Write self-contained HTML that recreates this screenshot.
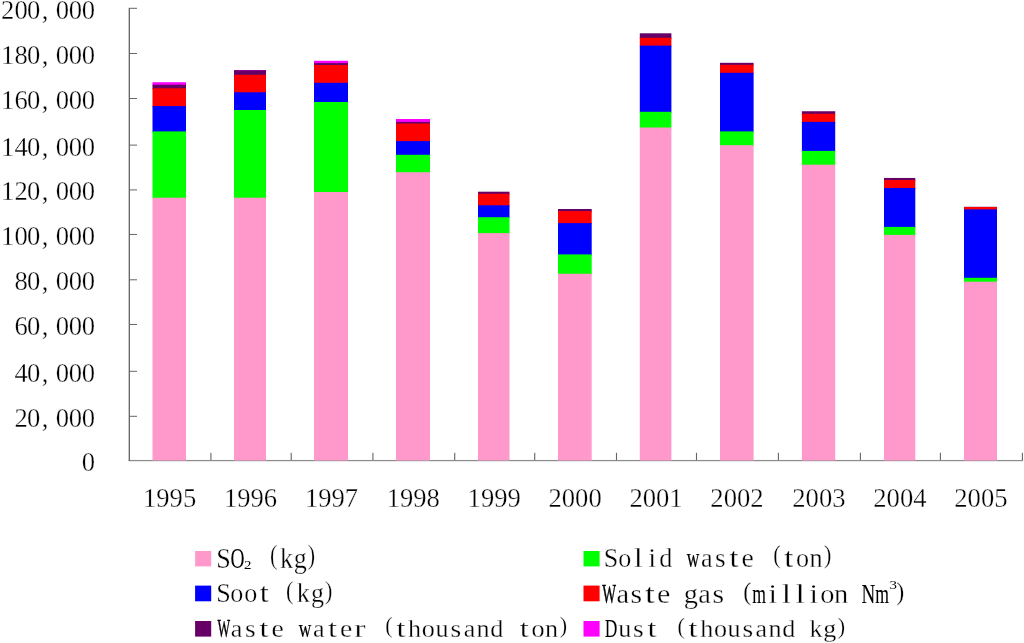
<!DOCTYPE html>
<html><head><meta charset="utf-8"><title>Chart</title>
<style>html,body{margin:0;padding:0;background:#fff;}body{width:1024px;height:643px;overflow:hidden;}svg{display:block;}text{font-family:"Liberation Serif",serif;fill:#000;}</style></head><body>
<svg width="1024" height="643" viewBox="0 0 1024 643" style="will-change:transform">
<rect x="0" y="0" width="1024" height="643" fill="#fff"/>
<g fill="#8c8c8c">
<rect x="128.65" y="459.95" width="894.5" height="1.25"/>
</g>
<g>
<rect x="152.50" y="82.20" width="33.50" height="3.50" fill="#FF00FF"/>
<rect x="152.50" y="84.70" width="33.50" height="4.60" fill="#660066"/>
<rect x="152.50" y="88.30" width="33.50" height="18.80" fill="#FF0000"/>
<rect x="152.50" y="106.10" width="33.50" height="26.30" fill="#0000FF"/>
<rect x="152.50" y="131.40" width="33.50" height="67.30" fill="#00FF00"/>
<rect x="152.50" y="197.70" width="33.50" height="262.80" fill="#FF99CC"/>
<rect x="234.00" y="70.00" width="32.00" height="1.30" fill="#FF00FF"/>
<rect x="234.00" y="70.30" width="32.00" height="5.50" fill="#660066"/>
<rect x="234.00" y="74.80" width="32.00" height="18.50" fill="#FF0000"/>
<rect x="234.00" y="92.30" width="32.00" height="18.70" fill="#0000FF"/>
<rect x="234.00" y="110.00" width="32.00" height="88.70" fill="#00FF00"/>
<rect x="234.00" y="197.70" width="32.00" height="262.80" fill="#FF99CC"/>
<rect x="314.00" y="60.80" width="34.00" height="3.30" fill="#FF00FF"/>
<rect x="314.00" y="63.10" width="34.00" height="2.90" fill="#660066"/>
<rect x="314.00" y="65.00" width="34.00" height="18.80" fill="#FF0000"/>
<rect x="314.00" y="82.80" width="34.00" height="20.20" fill="#0000FF"/>
<rect x="314.00" y="102.00" width="34.00" height="91.00" fill="#00FF00"/>
<rect x="314.00" y="192.00" width="34.00" height="268.50" fill="#FF99CC"/>
<rect x="396.00" y="119.00" width="34.00" height="3.90" fill="#FF00FF"/>
<rect x="396.00" y="121.90" width="34.00" height="2.60" fill="#660066"/>
<rect x="396.00" y="123.50" width="34.00" height="18.60" fill="#FF0000"/>
<rect x="396.00" y="141.10" width="34.00" height="14.70" fill="#0000FF"/>
<rect x="396.00" y="154.80" width="34.00" height="18.40" fill="#00FF00"/>
<rect x="396.00" y="172.20" width="34.00" height="288.30" fill="#FF99CC"/>
<rect x="478.00" y="191.70" width="31.50" height="3.05" fill="#660066"/>
<rect x="478.00" y="193.75" width="31.50" height="12.55" fill="#FF0000"/>
<rect x="478.00" y="205.30" width="31.50" height="12.90" fill="#0000FF"/>
<rect x="478.00" y="217.20" width="31.50" height="16.90" fill="#00FF00"/>
<rect x="478.00" y="233.10" width="31.50" height="227.40" fill="#FF99CC"/>
<rect x="558.00" y="209.00" width="33.70" height="3.10" fill="#660066"/>
<rect x="558.00" y="211.10" width="33.70" height="13.00" fill="#FF0000"/>
<rect x="558.00" y="223.10" width="33.70" height="32.30" fill="#0000FF"/>
<rect x="558.00" y="254.40" width="33.70" height="20.35" fill="#00FF00"/>
<rect x="558.00" y="273.75" width="33.70" height="186.75" fill="#FF99CC"/>
<rect x="639.80" y="33.30" width="31.60" height="5.50" fill="#660066"/>
<rect x="639.80" y="37.80" width="31.60" height="8.80" fill="#FF0000"/>
<rect x="639.80" y="45.60" width="31.60" height="67.20" fill="#0000FF"/>
<rect x="639.80" y="111.80" width="31.60" height="16.70" fill="#00FF00"/>
<rect x="639.80" y="127.50" width="31.60" height="333.00" fill="#FF99CC"/>
<rect x="720.00" y="62.80" width="33.60" height="3.00" fill="#660066"/>
<rect x="720.00" y="64.80" width="33.60" height="9.00" fill="#FF0000"/>
<rect x="720.00" y="72.80" width="33.60" height="59.60" fill="#0000FF"/>
<rect x="720.00" y="131.40" width="33.60" height="14.80" fill="#00FF00"/>
<rect x="720.00" y="145.20" width="33.60" height="315.30" fill="#FF99CC"/>
<rect x="801.90" y="111.25" width="33.30" height="3.50" fill="#660066"/>
<rect x="801.90" y="113.75" width="33.30" height="9.15" fill="#FF0000"/>
<rect x="801.90" y="121.90" width="33.30" height="30.00" fill="#0000FF"/>
<rect x="801.90" y="150.90" width="33.30" height="14.80" fill="#00FF00"/>
<rect x="801.90" y="164.70" width="33.30" height="295.80" fill="#FF99CC"/>
<rect x="884.00" y="177.95" width="31.30" height="3.05" fill="#660066"/>
<rect x="884.00" y="180.00" width="31.30" height="8.95" fill="#FF0000"/>
<rect x="884.00" y="187.95" width="31.30" height="39.95" fill="#0000FF"/>
<rect x="884.00" y="226.90" width="31.30" height="9.00" fill="#00FF00"/>
<rect x="884.00" y="234.90" width="31.30" height="225.60" fill="#FF99CC"/>
<rect x="964.00" y="206.80" width="33.00" height="1.20" fill="#660066"/>
<rect x="964.00" y="207.00" width="33.00" height="3.40" fill="#FF0000"/>
<rect x="964.00" y="209.40" width="33.00" height="69.40" fill="#0000FF"/>
<rect x="964.00" y="277.80" width="33.00" height="4.90" fill="#00FF00"/>
<rect x="964.00" y="281.70" width="33.00" height="178.80" fill="#FF99CC"/>
</g>
<g fill="#686868">
<rect x="128.65" y="7.8" width="1.35" height="453.2"/>
</g>
<g fill="#666666">
<rect x="130" y="415.80" width="7.0" height="1.0"/>
<rect x="130" y="370.80" width="7.0" height="1.0"/>
<rect x="130" y="323.96" width="7.0" height="1.0"/>
<rect x="130" y="279.30" width="7.0" height="1.0"/>
<rect x="130" y="233.96" width="7.0" height="1.0"/>
<rect x="130" y="189.40" width="7.0" height="1.0"/>
<rect x="130" y="144.60" width="7.0" height="1.0"/>
<rect x="130" y="98.00" width="7.0" height="1.0"/>
<rect x="130" y="53.00" width="7.0" height="1.0"/>
<rect x="130" y="7.80" width="7.0" height="1.0"/>
<rect x="210.35" y="452.8" width="1.1" height="7.3"/>
<rect x="290.65" y="452.8" width="1.1" height="7.3"/>
<rect x="372.35" y="452.8" width="1.1" height="7.3"/>
<rect x="454.15" y="452.8" width="1.1" height="7.3"/>
<rect x="534.15" y="452.8" width="1.1" height="7.3"/>
<rect x="615.95" y="452.8" width="1.1" height="7.3"/>
<rect x="695.95" y="452.8" width="1.1" height="7.3"/>
<rect x="777.85" y="452.8" width="1.1" height="7.3"/>
<rect x="859.85" y="452.8" width="1.1" height="7.3"/>
<rect x="939.85" y="452.8" width="1.1" height="7.3"/>
<rect x="1021.85" y="452.8" width="1.1" height="7.3"/>
</g>
<g font-size="26.6" text-anchor="middle" stroke="#fff" stroke-width="0.32">
<text y="471.35" x="88.40">0</text>
<text y="426.75" x="21.10 33.55 45.00 62.50 75.40 88.40">20,000</text>
<text y="381.75" x="21.10 33.55 45.00 62.50 75.40 88.40">40,000</text>
<text y="334.91" x="21.10 33.55 45.00 62.50 75.40 88.40">60,000</text>
<text y="290.25" x="21.10 33.55 45.00 62.50 75.40 88.40">80,000</text>
<text y="244.91" x="7.70 21.10 33.55 45.00 62.50 75.40 88.40">100,000</text>
<text y="200.35" x="7.70 21.10 33.55 45.00 62.50 75.40 88.40">120,000</text>
<text y="155.55" x="7.70 21.10 33.55 45.00 62.50 75.40 88.40">140,000</text>
<text y="108.95" x="7.70 21.10 33.55 45.00 62.50 75.40 88.40">160,000</text>
<text y="63.95" x="7.70 21.10 33.55 45.00 62.50 75.40 88.40">180,000</text>
<text y="18.95" x="7.70 21.10 33.55 45.00 62.50 75.40 88.40">200,000</text>
</g>
<g font-size="26.6" text-anchor="middle" stroke="#fff" stroke-width="0.32">
<text x="169.60" y="506.5">1995</text>
<text x="250.55" y="506.5">1996</text>
<text x="331.55" y="506.5">1997</text>
<text x="413.30" y="506.5">1998</text>
<text x="494.20" y="506.5">1999</text>
<text x="575.10" y="506.5">2000</text>
<text x="656.00" y="506.5">2001</text>
<text x="736.95" y="506.5">2002</text>
<text x="818.90" y="506.5">2003</text>
<text x="899.90" y="506.5">2004</text>
<text x="980.90" y="506.5">2005</text>
</g>
<g text-anchor="middle" stroke="#fff" stroke-width="0.32">
<rect x="195.1" y="551.00" width="16.1" height="15.40" fill="#FF99CC" stroke="none"/>
<text transform="translate(223.40 567.80) scale(0.900 1.000)" font-size="29">S</text>
<text transform="translate(237.40 567.80) scale(0.900 1.000)" font-size="29" textLength="15.6" lengthAdjust="spacingAndGlyphs" stroke="none" stroke-width="0.00">O</text>
<text transform="translate(247.85 568.70) scale(1.150 1.000)" font-size="13" stroke="none">2</text>
<text transform="translate(273.60 564.20) scale(0.765 0.930)" font-size="29">(</text>
<text transform="translate(286.50 567.80) scale(0.900 1.000)" font-size="29">k</text>
<text transform="translate(300.20 567.80) scale(0.900 1.000)" font-size="29">g</text>
<text transform="translate(311.40 564.20) scale(0.765 0.930)" font-size="29">)</text>
<rect x="195.1" y="585.60" width="16.1" height="15.70" fill="#0000FF" stroke="none"/>
<text transform="translate(223.40 601.90) scale(0.900 0.927)" font-size="29">S</text>
<text transform="translate(236.90 601.90) scale(0.900 0.927)" font-size="29">o</text>
<text transform="translate(250.80 601.90) scale(0.900 0.927)" font-size="29">o</text>
<text transform="translate(264.30 601.90) scale(1.125 0.927)" font-size="29">t</text>
<text transform="translate(289.60 598.56) scale(0.765 0.862)" font-size="29">(</text>
<text transform="translate(303.20 601.90) scale(0.900 0.927)" font-size="29">k</text>
<text transform="translate(317.60 601.90) scale(0.900 0.927)" font-size="29">g</text>
<text transform="translate(328.80 598.56) scale(0.765 0.862)" font-size="29">)</text>
<rect x="195.1" y="621.00" width="16.1" height="15.60" fill="#660066" stroke="none"/>
<text transform="translate(223.90 636.50) scale(0.900 0.884)" font-size="29" textLength="14.0" lengthAdjust="spacingAndGlyphs" stroke="#000" stroke-width="0.50">W</text>
<text transform="translate(236.55 636.50) scale(0.900 0.884)" font-size="29">a</text>
<text transform="translate(250.25 636.50) scale(0.945 0.884)" font-size="29">s</text>
<text transform="translate(263.95 636.50) scale(1.125 0.884)" font-size="29">t</text>
<text transform="translate(277.65 636.50) scale(0.954 0.884)" font-size="29">e</text>
<text transform="translate(305.05 636.50) scale(0.900 0.884)" font-size="29" textLength="14.0" lengthAdjust="spacingAndGlyphs" stroke="#000" stroke-width="0.25">w</text>
<text transform="translate(318.75 636.50) scale(0.900 0.884)" font-size="29">a</text>
<text transform="translate(332.45 636.50) scale(1.125 0.884)" font-size="29">t</text>
<text transform="translate(346.15 636.50) scale(0.954 0.884)" font-size="29">e</text>
<text transform="translate(359.85 636.50) scale(1.170 0.884)" font-size="29">r</text>
<text transform="translate(389.05 633.32) scale(0.765 0.823)" font-size="29">(</text>
<text transform="translate(400.95 636.50) scale(1.125 0.884)" font-size="29">t</text>
<text transform="translate(414.65 636.50) scale(0.900 0.884)" font-size="29">h</text>
<text transform="translate(428.35 636.50) scale(0.900 0.884)" font-size="29">o</text>
<text transform="translate(442.05 636.50) scale(0.900 0.884)" font-size="29">u</text>
<text transform="translate(455.75 636.50) scale(0.945 0.884)" font-size="29">s</text>
<text transform="translate(469.45 636.50) scale(0.900 0.884)" font-size="29">a</text>
<text transform="translate(483.15 636.50) scale(0.900 0.884)" font-size="29">n</text>
<text transform="translate(496.85 636.50) scale(0.900 0.884)" font-size="29">d</text>
<text transform="translate(524.25 636.50) scale(1.125 0.884)" font-size="29">t</text>
<text transform="translate(537.95 636.50) scale(0.900 0.884)" font-size="29">o</text>
<text transform="translate(551.65 636.50) scale(0.900 0.884)" font-size="29">n</text>
<text transform="translate(563.35 633.32) scale(0.765 0.823)" font-size="29">)</text>
<rect x="583.5" y="551.00" width="16.1" height="15.40" fill="#00FF00" stroke="none"/>
<text transform="translate(611.04 566.60) scale(0.900 0.906)" font-size="29">S</text>
<text transform="translate(624.71 566.60) scale(0.900 0.906)" font-size="29">o</text>
<text transform="translate(638.38 566.60) scale(1.125 0.906)" font-size="29">l</text>
<text transform="translate(652.04 566.60) scale(0.972 0.906)" font-size="29">i</text>
<text transform="translate(665.71 566.60) scale(0.900 0.906)" font-size="29">d</text>
<text transform="translate(693.05 566.60) scale(0.900 0.906)" font-size="29" textLength="14.0" lengthAdjust="spacingAndGlyphs" stroke="#000" stroke-width="0.25">w</text>
<text transform="translate(706.72 566.60) scale(0.900 0.906)" font-size="29">a</text>
<text transform="translate(720.39 566.60) scale(0.945 0.906)" font-size="29">s</text>
<text transform="translate(734.06 566.60) scale(1.125 0.906)" font-size="29">t</text>
<text transform="translate(747.73 566.60) scale(0.954 0.906)" font-size="29">e</text>
<text transform="translate(776.87 563.34) scale(0.765 0.842)" font-size="29">(</text>
<text transform="translate(788.74 566.60) scale(1.125 0.906)" font-size="29">t</text>
<text transform="translate(802.41 566.60) scale(0.900 0.906)" font-size="29">o</text>
<text transform="translate(816.08 566.60) scale(0.900 0.906)" font-size="29">n</text>
<text transform="translate(827.75 563.34) scale(0.765 0.842)" font-size="29">)</text>
<rect x="583.5" y="585.60" width="16.1" height="15.70" fill="#FF0000" stroke="none"/>
<text transform="translate(609.03 603.00) scale(0.980 0.963)" font-size="29" textLength="14.0" lengthAdjust="spacingAndGlyphs" stroke="#000" stroke-width="0.50">W</text>
<text transform="translate(622.68 603.00) scale(0.980 0.963)" font-size="29">a</text>
<text transform="translate(636.33 603.00) scale(1.029 0.963)" font-size="29">s</text>
<text transform="translate(649.98 603.00) scale(1.225 0.963)" font-size="29">t</text>
<text transform="translate(663.62 603.00) scale(1.039 0.963)" font-size="29">e</text>
<text transform="translate(690.92 603.00) scale(0.980 0.963)" font-size="29">g</text>
<text transform="translate(704.57 603.00) scale(0.980 0.963)" font-size="29">a</text>
<text transform="translate(718.22 603.00) scale(1.029 0.963)" font-size="29">s</text>
<text transform="translate(747.32 599.53) scale(0.833 0.896)" font-size="29">(</text>
<text transform="translate(759.17 603.00) scale(0.980 0.963)" font-size="29" textLength="14.0" lengthAdjust="spacingAndGlyphs" stroke="#000" stroke-width="0.12">m</text>
<text transform="translate(772.82 603.00) scale(1.058 0.963)" font-size="29">i</text>
<text transform="translate(786.47 603.00) scale(1.225 0.963)" font-size="29">l</text>
<text transform="translate(800.12 603.00) scale(1.225 0.963)" font-size="29">l</text>
<text transform="translate(813.77 603.00) scale(1.058 0.963)" font-size="29">i</text>
<text transform="translate(827.42 603.00) scale(0.980 0.963)" font-size="29">o</text>
<text transform="translate(841.07 603.00) scale(0.980 0.963)" font-size="29">n</text>
<text transform="translate(868.37 603.00) scale(0.980 0.963)" font-size="29" textLength="14.0" lengthAdjust="spacingAndGlyphs" stroke="#000" stroke-width="0.15">N</text>
<text transform="translate(882.02 603.00) scale(0.980 0.963)" font-size="29" textLength="14.0" lengthAdjust="spacingAndGlyphs" stroke="#000" stroke-width="0.12">m</text>
<text transform="translate(893.35 589.00) scale(1.150 1.000)" font-size="13" stroke="none">3</text>
<text transform="translate(900.30 599.53) scale(0.833 0.896)" font-size="29">)</text>
<rect x="583.5" y="621.00" width="16.1" height="15.60" fill="#FF00FF" stroke="none"/>
<text transform="translate(611.04 636.70) scale(0.900 0.879)" font-size="29" textLength="14.0" lengthAdjust="spacingAndGlyphs" stroke="none" stroke-width="0.00">D</text>
<text transform="translate(624.71 636.70) scale(0.900 0.879)" font-size="29">u</text>
<text transform="translate(638.38 636.70) scale(0.945 0.879)" font-size="29">s</text>
<text transform="translate(652.04 636.70) scale(1.125 0.879)" font-size="29">t</text>
<text transform="translate(681.18 633.53) scale(0.765 0.818)" font-size="29">(</text>
<text transform="translate(693.05 636.70) scale(1.125 0.879)" font-size="29">t</text>
<text transform="translate(706.72 636.70) scale(0.900 0.879)" font-size="29">h</text>
<text transform="translate(720.39 636.70) scale(0.900 0.879)" font-size="29">o</text>
<text transform="translate(734.06 636.70) scale(0.900 0.879)" font-size="29">u</text>
<text transform="translate(747.73 636.70) scale(0.945 0.879)" font-size="29">s</text>
<text transform="translate(761.40 636.70) scale(0.900 0.879)" font-size="29">a</text>
<text transform="translate(775.07 636.70) scale(0.900 0.879)" font-size="29">n</text>
<text transform="translate(788.74 636.70) scale(0.900 0.879)" font-size="29">d</text>
<text transform="translate(816.08 636.70) scale(0.900 0.879)" font-size="29">k</text>
<text transform="translate(829.75 636.70) scale(0.900 0.879)" font-size="29">g</text>
<text transform="translate(841.42 633.53) scale(0.765 0.818)" font-size="29">)</text>
</g>
</svg></body></html>
